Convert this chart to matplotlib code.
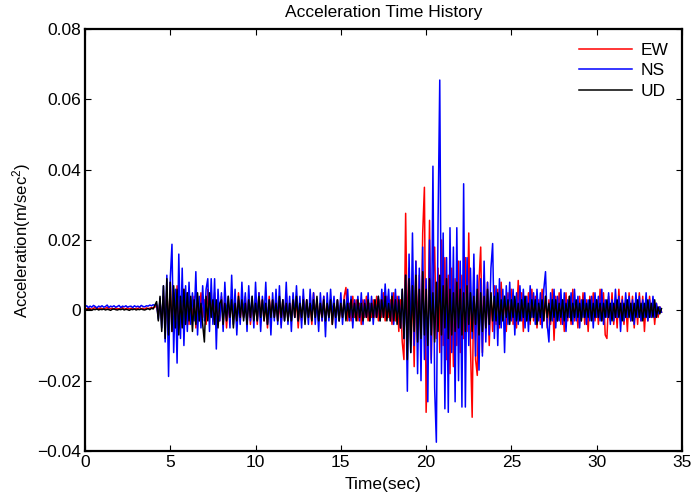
import numpy as np
import matplotlib.pyplot as plt

plt.rcParams['font.family'] = ['Liberation Sans', 'DejaVu Sans']
plt.rcParams['mathtext.default'] = 'regular'

# sample interval of the record (sec)
dt = 0.1

# accelerations, in 1e-3 m/sec^2, one row per second
ew = [
    0.6, 0.4, 0.7, 0.5, 0.3, 0.6, 0.8, 0.4, 0.5, 0.7,
    0.5, 0.3, 0.6, 0.8, 0.4, 0.5, 0.6, 0.3, 0.7, 0.5,
    0.4, 0.6, 0.8, 0.3, 0.5, 0.7, 0.4, 0.6, 0.5, 0.3,
    0.6, 0.5, 0.8, 0.4, 0.6, 0.3, 0.7, 0.5, 0.6, 0.8,
    0.7, 0.9, 1.5, -1.5, 2.5, -3, 4, -5, 6, -7,
    8, -6, 5, -4, 7, -5, 3, -4, 6, -3,
    5, -4, 3, -2, 4, -5, 2, -3, 5, -2,
    3, -4, 6, -2, 3, -3, 5, -4, 2, -3,
    4, -2, 3, -5, 2, -3, 4, -2, 3, -4,
    5, -3, 2, -2, 4, -3, 3, -4, 2, -2,
    3, -4, 5, -2, 3, -3, 2, -5, 4, -2,
    3, -2, 4, -3, 2, -4, 3, -2, 5, -3,
    2, -3, 4, -2, 3, -5, 2, -3, 4, -2,
    3, -2, 2, -4, 5, -2, 3, -3, 2, -3,
    4, -3, 2, -2, 3, -4, 2, -2, 3, -3,
    2, -2, 4, 6.5, -3, 2, -3, 4, -2, 3,
    -3, 2, -4, 3, -2, 4, -3, 2, -2, 3,
    -2, 4, -3, 3, -2, 5, -3, 4, -2, 3,
    -4, 5, -3, 4, -6, 3, -9, -14, 27.6, -8,
    12, -10, 8, -16, 14, -6, 10, -12, 22, 35,
    -29, -10, 25.6, -14, 8, 18, -8, 12, -12, 20,
    -10, 15, -14, 10, -18, 12, -16, 9, -10, 14,
    -12, 10, -8, 15, -6, 22, -10, -30.4, 12, -14,
    -18.5, 8, 18, -12, 10, -6, 8, -10, 5, -6,
    7, -4, 6, -5, 8, -3, 4, -6, 5, -3,
    6, -4, 3, -5, 8.5, -3, 5, -6, 4, -3,
    5, -4, 6, -3, 4, -5, 3, -4, 6, -3,
    4, -5, 3, -4, 6, -8.5, 4, -3, 5, -4,
    3, -6, 5, -3, 4, -4, 6, -3, 2, -5,
    4, -3, 5, -4, 3, -6, 4, -2, 5, -3,
    3, -4, 6, -3, 5, -7, -8, 4, -3, 5,
    -4, 3, -5, 6, -3, 4, -4, 3, -6, 5,
    -3, 4, -5, 3, -4, 5, -3, 4, -6, 3,
    -3, 4, -2, 3, -4, 2, -2, 1, -0.5,
]

ns = [
    1.0, 1.3, 0.8, 1.2, 0.9, 1.4, 1.1, 0.7, 1.2, 1.0,
    1.3, 0.9, 1.1, 1.5, 0.8, 1.2, 1.0, 1.3, 0.9, 1.1,
    1.4, 0.8, 1.2, 1.0, 1.3, 0.9, 1.1, 1.2, 0.8, 1.3,
    1.0, 1.2, 0.9, 1.4, 1.1, 1.0, 1.3, 1.2, 1.5, 1.3,
    1.6, 1.4, 1.8, -2.5, 3.5, -5, 7, -9, 10, -18.8,
    9, 18.8, -12, 6, -15, 16, -8, 12, -10, 7,
    -6, 8, -4, 5, -3, 11, -7, 4, -5, 7,
    -3, 6, 9, -6, 9, -4, 9, -11, 6, -3,
    5, -6, 8, -2, 4, -5, 10, -4, 6, -7,
    3, -4, 8, -2, 5, -6, 7, -3, 4, -5,
    8, -3, 5, -6, 4, -2, 8, -4, 3, -7,
    5, -3, 6, -4, 7, -5, 3, -3, 8, -4,
    4, -6, 5, -2, 7, -3, 4, -5, 6, -3,
    3, -4, 6, -2, 5, -4, 3, -6, 5, -3,
    4, -7.5, 5, -3, 6, -2, 4, -5, 3, -3,
    5, -4, 3, -2, 6, -3, 4, -5, 3, -2,
    4, -3, 5, -4, 3, -2, 5, -3, 4, -4,
    3, -2, 4, -3, 6, -2, 7.5, -1, 6, -3,
    5, -4, 6, -3, 4, -5, 6, -8, 10, -23,
    16, -12, 22, -10, 14, -18, 12, -20, 18, -14,
    9, -26, 20, -15, 41, -22, -37.5, 25, 65.5, -18,
    22, -28, 15, -29, 23.5, -12, 18, -26, 23.5, -20,
    14, -27.5, 36, -27.5, 15, -10, 12, -8, 16, -13,
    10, -17, 9, -13, 14, -9, 8, -7, 12, 19,
    -8, 7, -10, 9, -5, 6, -12, 7, -4, 8,
    -3, 6, -7, 5, -4, 7, -3, 6, -5, 4,
    -6, 7, -2, 5, -4, 6, -3, 5, -5, 6,
    11, -4, -9, 5, -3, 6, -5, 4, -3, 6,
    -4, 5, -6, 3, -2, 5, -4, 6, -3, 4,
    -5, 3, -2, 5, -4, 3, -3, 4, -5, 5,
    -2, 4, -3, 6, -4, 3, -2, 5, -4, 3,
    -3, 6, -2, 4, -6, 3, -3, 5, -2, 4,
    -3, 3, -4, 5, -2, 4, -3, 3, -2, 5,
    -3, 3, -2, 4, -2, 2, -1, 1, -0.5,
]

ud = [
    0.3, 0.1, 0.4, 0.2, 0.0, 0.3, 0.2, 0.4, 0.1, 0.3,
    0.2, 0.4, 0.1, 0.3, 0.2, 0.0, 0.3, 0.4, 0.2, 0.1,
    0.3, 0.2, 0.4, 0.1, 0.3, 0.2, 0.0, 0.3, 0.2, 0.4,
    0.1, 0.3, 0.2, 0.4, 0.2, 0.1, 0.3, 0.5, 0.2, 0.6,
    0.4, 1.5, 2.5, -3, 4, -6, 7, -8, 9, -7,
    8, -6, 7, -5, 6, -7, 4, -5, 6, -4,
    5, -3, 4, -6, 3, -4, 5, -3, 2, -4,
    -9, 4, -3, 5, -2, 3, -4, 3, -5, 2,
    3, -4, 2, -3, 4, -2, 3, -5, 2, -3,
    4, -2, 3, -3, 2, -4, 3, -2, 4, -3,
    2, -3, 4, -2, 3, -3, 2, -4, 3, -2,
    3, -2, 2, -3, 4, -2, 3, -3, 2, -3,
    2, -3, 3, -2, 4, -3, 2, -2, 3, -4,
    3, -2, 2, -3, 3, -2, 4, -3, 2, -2,
    3, -3, 2, -2, 3, -4, 2, -2, 3, -3,
    2, -2, 3, -3, 2, -2, 3, -2, 2, -3,
    3, -2, 2, -3, 2, -2, 3, -3, 2, -2,
    3, -2, 4, -3, 3, -2, 4, -3, 2, -3,
    4, -3, 3, -4, 3, -5, 6, -8, 10, -14,
    9, -12, 7, -6, 10, -9, 6, -8, 11, -7,
    6, -10, 9, -7, 5, -9, 8, -6, 10, -7,
    7, -5, 9, -8, 6, -7, 5, -6, 8, -5,
    6, -7, 5, -6, 7, -4, 5, -6, 4, -4,
    6, -7, 5, -6, 4, -5, 6, -4, 5, -3,
    4, -3, 5, -4, 3, -3, 4, -2, 3, -4,
    3, -2, 4, -3, 2, -3, 3, -2, 4, -3,
    2, -3, 3, -2, 3, -4, 2, -2, 3, -3,
    4, -2, 2, -3, 3, -2, 3, -3, 2, -2,
    3, -3, 2, -2, 4, -3, 2, -2, 3, -2,
    2, -3, 3, -2, 2, -2, 3, -3, 2, -2,
    3, -2, 2, -3, 2, -2, 3, -2, 2, -3,
    2, -2, 3, -2, 2, -3, 2, -2, 3, -2,
    2, -3, 2, -2, 3, -2, 2, -3, 2, -2,
    3, -2, 2, -2, 3, -2, 1, -1, 0.5,
]

ew = np.array(ew) * 1e-3
ns = np.array(ns) * 1e-3
ud = np.array(ud) * 1e-3
t = np.arange(len(ns)) * dt

fig, ax = plt.subplots(figsize=(6.92, 5.01), dpi=100)
fig.subplots_adjust(left=0.1228, right=0.9855, top=0.942, bottom=0.0998)

ax.plot(t, ew, color='red', lw=1.1, label='EW')
ax.plot(t, ns, color='blue', lw=1.1, label='NS')
ax.plot(t, ud, color='black', lw=1.1, label='UD')

ax.set_xlim(0, 35)
ax.set_ylim(-0.04, 0.08)
ax.set_xticks(np.arange(0, 36, 5))
yt = [-0.04, -0.02, 0, 0.02, 0.04, 0.06, 0.08]
ax.set_yticks(yt)
ax.set_yticklabels(['\u22120.04', '\u22120.02', '0', '0.02', '0.04', '0.06', '0.08'])
ax.tick_params(direction='in', top=True, right=True, length=4, labelsize=12.5, pad=3)
for s in ax.spines.values():
    s.set_linewidth(1.6)

ax.set_title('Acceleration Time History', fontsize=12.5, pad=9)
ax.set_xlabel('Time(sec)', fontsize=12.5, labelpad=5)
ax.set_ylabel('Acceleration(m/sec$^{2}$)', fontsize=12, labelpad=3)

ax.legend(loc='upper right', frameon=False, fontsize=12.5, handlelength=3.0,
          handletextpad=0.5, labelspacing=0.3, borderaxespad=0.4)

plt.savefig('out.png')
